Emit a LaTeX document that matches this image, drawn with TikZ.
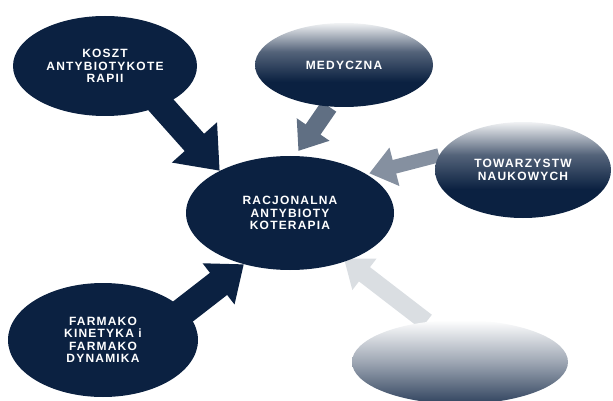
\documentclass[tikz,border=0pt]{standalone}
\usepackage{fontspec}
\setmainfont{Liberation Sans}
\usetikzlibrary{shapes.geometric, arrows.meta, backgrounds}
\definecolor{abxnavy}{HTML}{0B2141}
\pgfdeclareverticalshading{navyfade}{100bp}{color(0bp)=(abxnavy); color(40bp)=(abxnavy); color(58bp)=(abxnavy!70); color(75bp)=(abxnavy!6); color(100bp)=(abxnavy!6)}
\pgfdeclareverticalshading{navyfaint}{100bp}{color(0bp)=(abxnavy!85); color(25bp)=(abxnavy!85); color(50bp)=(abxnavy!40); color(75bp)=(white); color(100bp)=(white)}

\begin{document}
\begin{tikzpicture}[
    x=1pt, y=-1pt,
    bubble/.style={ellipse, fill=abxnavy, inner sep=0pt, text=white, align=center, font=\bfseries\fontsize{12}{12.5}\selectfont\addfontfeature{LetterSpace=10}},
    fadebubble/.style={bubble, fill=none, shading=navyfade},
    bigarrow/.style={-{Triangle[length=38pt, width=58pt]}, line width=26pt, draw=abxnavy},
    fadearrow/.style={-{Triangle[length=26pt, width=38pt]}, line width=18pt}
]
\useasboundingbox (0,0) rectangle (613,401);
\node[bubble, minimum width=184pt, minimum height=100pt] (koszt) at (105,66) {KOSZT\\ANTYBIOTYKOTE\\RAPII};
\node[bubble, minimum width=208pt, minimum height=114pt] (racj) at (290,213) {RACJONALNA\\ANTYBIOTY\\KOTERAPIA};
\node[bubble, minimum width=190pt, minimum height=114pt] (farm) at (103,340) {FARMAKO\\KINETYKA i\\FARMAKO\\DYNAMIKA};
\node[fadebubble, minimum width=178pt, minimum height=84pt] (med) at (344,65) {MEDYCZNA};
\node[fadebubble, minimum width=176pt, minimum height=96pt] (tow) at (523,170) {TOWARZYSTW\\NAUKOWYCH};
\node[fadebubble, shading=navyfaint, minimum width=216pt, minimum height=84pt] (br) at (460,362) {};
% arrows behind the bubbles
\begin{scope}[on background layer]
\draw[bigarrow, shorten <=-20pt] (koszt.-35) -- (racj.149);
\draw[bigarrow, line width=28pt, -{Triangle[length=32pt, width=50pt]}, shorten <=-20pt] (farm.20) -- (racj.228);
\draw[fadearrow, draw=abxnavy!65, shorten >=6pt] (med.250) -- (racj.85);
\draw[fadearrow, draw=abxnavy!50, line width=14pt, shorten >=3pt] (tow.170) -- (racj.27);
\draw[fadearrow, draw=abxnavy!15, shorten >=-4pt] (br.130) -- (racj.-40);
\end{scope}
\end{tikzpicture}
\end{document}
